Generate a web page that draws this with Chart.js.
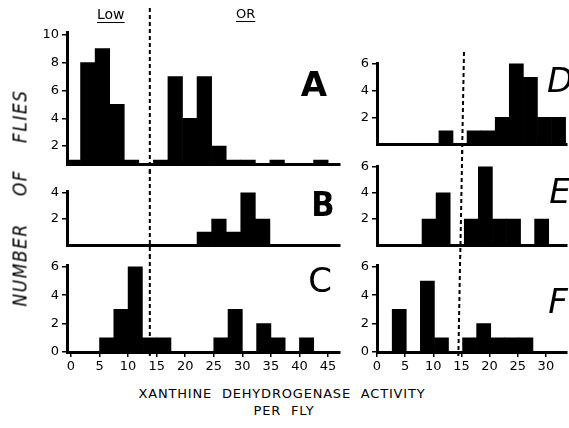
<!DOCTYPE html>
<html>
<head>
<meta charset="utf-8">
<script src="https://cdn.jsdelivr.net/npm/chart.js@4.4.1/dist/chart.umd.min.js"></script>
<style>
  body { margin: 0; background: #fff; }
  #fig { position: relative; width: 569px; height: 428px; overflow: hidden; background: #fff; }
  #fig canvas { position: absolute; }
  .txt { position: absolute; font-family: 'DejaVu Sans', sans-serif; color: #000; white-space: nowrap; line-height: 1; }
  .letter { font-size: 34px; transform: translate(-50%, -50%); }
</style>
</head>
<body>
<div id="fig">
  <canvas id="cA" width="345" height="175" style="left:0px;top:0px"></canvas>
  <canvas id="cB" width="345" height="86" style="left:0px;top:170px"></canvas>
  <canvas id="cC" width="345" height="125" style="left:0px;top:255px"></canvas>
  <canvas id="cD" width="269" height="115" style="left:300px;top:40px"></canvas>
  <canvas id="cE" width="269" height="106" style="left:300px;top:150px"></canvas>
  <canvas id="cF" width="269" height="125" style="left:300px;top:255px"></canvas>

  <div class="txt" style="left:97px;top:7px;font-size:14px;text-decoration:underline;text-underline-offset:3px">Low</div>
  <div class="txt" style="left:236px;top:7px;font-size:13px;text-decoration:underline;text-underline-offset:3px">OR</div>

  <div class="txt letter" style="left:314px;top:84px;font-weight:bold">A</div>
  <div class="txt letter" style="left:323px;top:204px;font-weight:bold;font-family:'DejaVu Sans Condensed'">B</div>
  <div class="txt letter" style="left:320px;top:280px">C</div>
  <div class="txt letter" style="left:560px;top:80px;font-style:italic">D</div>
  <div class="txt letter" style="left:560px;top:191px;font-style:italic">E</div>
  <div class="txt letter" style="left:558px;top:301px;font-style:italic">F</div>

  <div class="txt" style="left:20px;top:198px;font-family:'DejaVu Sans Condensed';font-style:italic;font-size:19px;letter-spacing:1.5px;word-spacing:20px;transform:translate(-50%,-50%) rotate(-90deg)">NUMBER OF FLIES</div>
  <div class="txt" style="left:282px;top:393px;font-size:13px;letter-spacing:0.8px;word-spacing:5px;transform:translate(-50%,-50%)">XANTHINE DEHYDROGENASE ACTIVITY</div>
  <div class="txt" style="left:284px;top:410px;font-size:13px;letter-spacing:0.8px;word-spacing:5px;transform:translate(-50%,-50%)">PER FLY</div>
</div>

<script>
// bin centres (activity per fly) and counts
const binsA = [0.4, 2.95, 5.5, 8.05, 10.6, 15.7, 18.25, 20.8, 23.35, 25.9, 28.45, 31.0, 36.1, 43.75];
const fliesA = [1, 8, 9, 5, 1, 1, 7, 4, 7, 2, 1, 1, 1, 1];
const binsB = [23.35, 25.9, 28.45, 31.0, 33.55];
const fliesB = [1, 2, 1, 4, 2];
const binsC = [6.25, 8.75, 11.25, 13.75, 16.25, 26.25, 28.75, 33.75, 36.25, 41.25];
const fliesC = [1, 3, 6, 1, 1, 1, 3, 2, 1, 1];
const binsD = [12.25, 17.25, 19.75, 22.25, 24.75, 27.25, 29.75, 32.25];
const fliesD = [1, 1, 1, 2, 6, 5, 2, 2];
const binsE = [9.25, 11.75, 16.75, 19.25, 21.75, 24.25, 29.25];
const fliesE = [2, 4, 2, 6, 2, 2, 2];
const binsF = [3.95, 8.95, 11.45, 16.45, 18.95, 21.45, 23.95, 26.45];
const fliesF = [3, 5, 1, 1, 2, 1, 1, 1];

// tick labels
const xTicksLeft = [0, 5, 10, 15, 20, 25, 30, 35, 40, 45];
const xTicksRight = [0, 5, 10, 15, 20, 25, 30];
const yTicksA = [2, 4, 6, 8, 10];
const yTicksB = [2, 4];
const yTicksC = [0, 2, 4, 6];
const yTicksD = [2, 4, 6];
const yTicksE = [2, 4, 6];
const yTicksF = [0, 2, 4, 6];

// dashed "low / OR" boundary
const cutLine = {
    id: 'cutLine',
    afterDatasetsDraw(chart, args, opts) {
        const x = chart.scales.x;
        const c = chart.ctx;
        c.save();
        c.strokeStyle = '#000';
        c.lineWidth = 2;
        c.setLineDash([4, 3]);
        c.beginPath();
        c.moveTo(x.getPixelForValue(opts.fromX), opts.fromY);
        c.lineTo(x.getPixelForValue(opts.toX), opts.toY);
        c.stroke();
        c.restore();
    }
};

const tickFont = { family: 'DejaVu Sans', size: 13 };

function panel(id, bins, flies, o) {
    return new Chart(document.getElementById(id), {
        type: 'bar',
        data: {
            datasets: [{
                data: bins.map((b, i) => ({ x: b, y: flies[i] })),
                backgroundColor: '#000',
                borderWidth: 0,
                barPercentage: 1,
                categoryPercentage: 1
            }]
        },
        options: {
            responsive: false,
            animation: false,
            layout: { padding: o.pad },
            plugins: {
                legend: { display: false },
                tooltip: { enabled: false },
                cutLine: o.cut
            },
            scales: {
                x: {
                    type: 'linear',
                    offset: false,
                    min: o.xmin,
                    max: o.xmax,
                    afterBuildTicks: s => { s.ticks = o.xticks.map(v => ({ value: v })); },
                    afterFit: s => { s.height = o.xh; },
                    ticks: { display: o.xlabels, color: '#000', font: tickFont, padding: 2, maxRotation: 0, autoSkip: false },
                    grid: { display: true, offset: false, drawOnChartArea: false, drawTicks: o.xlabels, tickLength: 5, color: '#000', lineWidth: 1.5 },
                    border: { display: true, color: '#000', width: 3 }
                },
                y: {
                    min: o.ymin,
                    max: o.ymax,
                    afterBuildTicks: s => { s.ticks = o.yticks.map(v => ({ value: v })); },
                    afterFit: s => { s.width = o.yw; },
                    ticks: { color: '#000', font: tickFont, padding: 3 },
                    grid: { display: true, drawOnChartArea: false, drawTicks: true, tickLength: 5, color: '#000', lineWidth: 1.5 },
                    border: { display: true, color: '#000', width: 3 }
                }
            }
        },
        plugins: [cutLine]
    });
}

const left = { xmin: -0.7, xmax: 47.1, xticks: xTicksLeft, yw: 67 };
const right = { xmin: 0, xmax: 33.75, xticks: xTicksRight, yw: 77 };

panel('cA', binsA, fliesA, Object.assign({}, left, {
    ymin: 0.7, ymax: 10.2, yticks: yTicksA, xh: 0, xlabels: false,
    pad: { top: 32, bottom: 5, left: 0, right: 5 },
    cut: { fromX: 13.8, fromY: 8, toX: 13.8, toY: 175 }
}));
panel('cB', binsB, fliesB, Object.assign({}, left, {
    ymin: 0, ymax: 4.14, yticks: yTicksB, xh: 0, xlabels: false,
    pad: { top: 21, bottom: 4, left: 0, right: 5 },
    cut: { fromX: 13.8, fromY: 0, toX: 13.8, toY: 86 }
}));
panel('cC', binsC, fliesC, Object.assign({}, left, {
    ymin: 0, ymax: 6.07, yticks: yTicksC, xh: 28, xlabels: true,
    pad: { top: 10, bottom: 0, left: 0, right: 5 },
    cut: { fromX: 13.8, fromY: 0, toX: 13.8, toY: 101 }
}));
panel('cD', binsD, fliesD, Object.assign({}, right, {
    ymin: 0, ymax: 6.07, yticks: yTicksD, xh: 0, xlabels: false,
    pad: { top: 23, bottom: 5, left: 0, right: 2 },
    cut: { fromX: 15.45, fromY: 12, toX: 15.11, toY: 115 }
}));
panel('cE', binsE, fliesE, Object.assign({}, right, {
    ymin: 0, ymax: 6.06, yticks: yTicksE, xh: 0, xlabels: false,
    pad: { top: 16, bottom: 4, left: 0, right: 2 },
    cut: { fromX: 15.14, fromY: 0, toX: 14.79, toY: 106 }
}));
panel('cF', binsF, fliesF, Object.assign({}, right, {
    ymin: 0, ymax: 6.07, yticks: yTicksF, xh: 28, xlabels: true,
    pad: { top: 10, bottom: 0, left: 0, right: 2 },
    cut: { fromX: 14.78, fromY: 0, toX: 14.45, toY: 101 }
}));
</script>
</body>
</html>
